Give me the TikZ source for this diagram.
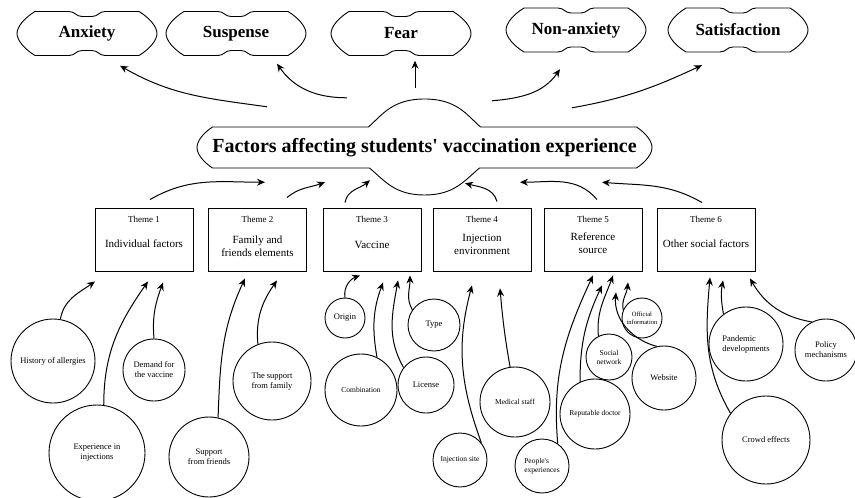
\documentclass[tikz,border=0pt]{standalone}
\usepackage{fontspec}
\setmainfont{Liberation Serif}
\usetikzlibrary{arrows.meta, positioning}

\tikzset{
  emoline/.style={line width=0.9pt},
  emo/.style={minimum width=140pt, minimum height=44pt, inner sep=0pt, font=\fontsize{17}{19}\selectfont\bfseries},
  factor/.style={minimum width=455pt, minimum height=41pt, inner sep=0pt, font=\fontsize{20}{22}\selectfont\bfseries},
  theme/.style={draw, line width=0.9pt, minimum width=98pt, minimum height=63pt, inner sep=0pt},
  themeno/.style={font=\fontsize{9}{10}\selectfont, inner sep=0pt},
  themetxt/.style={font=\fontsize{11}{13}\selectfont, align=center, inner sep=0pt},
  sub/.style={draw, circle, line width=0.9pt, inner sep=0pt, align=center, font=\fontsize{8.5}{10}\selectfont},
  subsm/.style={sub, font=\fontsize{7.5}{9}\selectfont},
  arr/.style={line width=1pt, -{Stealth[length=8pt,width=7pt]}},
}

% outline of an emotion node
\newcommand{\emoshape}[1]{%
  \draw[emoline, shift={(#1.center)}]
    (-52,22) -- (-18,22) .. controls (-12,22) and (-11,17) .. (-5,17) -- (5,17)
    .. controls (11,17) and (12,22) .. (18,22) -- (52,22)
    .. controls (62,16) and (70,7) .. (70,0) .. controls (70,-7) and (62,-16) .. (52,-22)
    -- (18,-22) .. controls (12,-22) and (11,-17) .. (5,-17) -- (-5,-17)
    .. controls (-11,-17) and (-12,-22) .. (-18,-22) -- (-52,-22)
    .. controls (-62,-16) and (-70,-7) .. (-70,0) .. controls (-70,7) and (-62,16) .. cycle;}

\begin{document}
\begin{tikzpicture}[x=1pt,y=1pt]
  \useasboundingbox (0,0) rectangle (855,-498);

  % emotions
  \node[emo] (a1) at (87,-33.5) {Anxiety};
  \node[emo] (a2) at (236,-33.5) {Suspense};
  \node[emo] (a3) at (401,-33.5) {Fear};
  \node[emo] (a4) at (576,-30) {Non-anxiety};
  \node[emo] (a5) at (738,-30) {Satisfaction};
  \emoshape{a1} \emoshape{a2} \emoshape{a3} \emoshape{a4} \emoshape{a5}

  % central node
  \node[factor] (m) at (424.5,-147.5) {Factors affecting students\textquotesingle\ vaccination experience};
  \draw[emoline, shift={(m.center)}]
    (-212,20.5) -- (-56,20.5) .. controls (-42,33) and (-32,48.5) .. (0,48.5)
    .. controls (32,48.5) and (42,33) .. (56,20.5) -- (212,20.5)
    .. controls (222,14) and (227.5,6) .. (227.5,0) .. controls (227.5,-6) and (222,-14) .. (212,-20.5)
    -- (55,-20.5) .. controls (40,-33) and (30,-47.5) .. (0,-47.5)
    .. controls (-30,-47.5) and (-40,-33) .. (-55,-20.5) -- (-212,-20.5)
    .. controls (-222,-14) and (-227.5,-6) .. (-227.5,0) .. controls (-227.5,6) and (-222,14) .. cycle;

  \draw[arr] ([xshift=-157.5pt,yshift=20pt]m.north) to[out=172,in=-30] ([xshift=33pt,yshift=-10pt]a1.south);
  \draw[arr] ([xshift=-77.5pt,yshift=29pt]m.north) to[out=180,in=-55] ([xshift=41pt,yshift=-8pt]a2.south);
  \draw[arr] ([xshift=-9.5pt,yshift=39pt]m.north) -- ([xshift=14pt,yshift=-5pt]a3.south);
  \draw[arr] ([xshift=67.5pt,yshift=26pt]m.north) to[out=5,in=-125] ([xshift=-16pt,yshift=-17pt]a4.south);
  \draw[arr] ([xshift=147.5pt,yshift=19pt]m.north) to[out=10,in=-155] ([xshift=-36pt,yshift=-13pt]a5.south);

  % themes
  \node[theme] (t1) at (144,-239.5) {};
  \node[theme] (t2) at (257.5,-239.5) {};
  \node[theme] (t3) at (372,-239.5) {};
  \node[theme] (t4) at (482,-239.5) {};
  \node[theme] (t5) at (593,-239.5) {};
  \node[theme] (t6) at (706,-239.5) {};
  \node[themeno] (t1n) at ([yshift=-12pt]t1.north) {Theme 1};
  \node[themeno] (t2n) at ([yshift=-12pt]t2.north) {Theme 2};
  \node[themeno] (t3n) at ([yshift=-12pt]t3.north) {Theme 3};
  \node[themeno] (t4n) at ([yshift=-12pt]t4.north) {Theme 4};
  \node[themeno] (t5n) at ([yshift=-12pt]t5.north) {Theme 5};
  \node[themeno] (t6n) at ([yshift=-12pt]t6.north) {Theme 6};
  \node[themetxt] (t1x) at ([yshift=-4pt]t1.center) {Individual factors};
  \node[themetxt] (t2x) at ([yshift=-7pt]t2.center) {Family and\\friends elements};
  \node[themetxt] (t3x) at ([yshift=-5pt]t3.center) {Vaccine};
  \node[themetxt] (t4x) at ([yshift=-5pt]t4.center) {Injection\\environment};
  \node[themetxt] (t5x) at ([yshift=-4pt]t5.center) {Reference\\source};
  \node[themetxt] (t6x) at ([yshift=-4pt]t6.center) {Other social factors};

  \draw[arr] ([xshift=6pt,yshift=8pt]t1.north) to[out=30,in=180] ([xshift=-159.5pt,yshift=-14pt]m.south);
  \draw[arr] ([xshift=29.5pt,yshift=10pt]t2.north) to[out=40,in=-160] ([xshift=-99.5pt,yshift=-14pt]m.south);
  \draw[arr] ([xshift=-27pt,yshift=5pt]t3.north) to[out=80,in=-140] ([xshift=-54.5pt,yshift=-12pt]m.south);
  \draw[arr] ([xshift=15pt,yshift=6pt]t4.north) to[out=105,in=-15] ([xshift=40.5pt,yshift=-15pt]m.south);
  \draw[arr] ([xshift=4pt,yshift=8pt]t5.north) to[out=130,in=0] ([xshift=95.5pt,yshift=-14pt]m.south);
  \draw[arr] ([xshift=-4pt,yshift=5pt]t6.north) to[out=150,in=-5] ([xshift=177.5pt,yshift=-14pt]m.south);

  % sub-themes
  \node[sub, minimum size=84pt] (h1) at (53,-361) {History of allergies};
  \node[sub, minimum size=96pt] (h2) at (97,-453) {Experience in\\injections};
  \node[sub, minimum size=62pt] (h3) at (154,-370) {Demand for\\the vaccine};
  \node[sub, minimum size=80pt] (f1) at (209,-457) {Support\\from friends};
  \node[sub, minimum size=78pt] (f2) at (272,-381) {The support\\from family};
  \node[sub, minimum size=40pt] (v1) at (345,-318) {Origin};
  \node[sub, minimum size=52pt] (v2) at (434,-325) {Type};
  \node[subsm, minimum size=72pt] (v3) at (361,-390) {Combination};
  \node[sub, minimum size=56pt] (v4) at (426,-385) {License};
  \node[subsm, minimum size=54pt] (e1) at (460,-460) {Injection site};
  \node[subsm, minimum size=70pt] (e2) at (515,-402) {Medical staff};
  \node[subsm, minimum size=54pt, align=left] (r1) at (542,-466) {People\textquotesingle s\\experiences};
  \node[subsm, minimum size=70pt] (r2) at (595,-414) {Reputable doctor};
  \node[subsm, minimum size=46pt] (r3) at (609,-357) {Social\\network};
  \node[sub, minimum size=64pt] (r4) at (664,-378) {Website};
  \node[subsm, minimum size=40pt, font=\fontsize{6.5}{8}\selectfont] (r5) at (642,-318) {Official\\information};
  \node[sub, minimum size=88pt] (o1) at (766,-440) {Crowd effects};
  \node[sub, minimum size=74pt, align=left] (o2) at (746,-344) {Pandemic\\developments};
  \node[sub, minimum size=62pt] (o3) at (826,-350) {Policy\\mechanisms};

  \draw[arr] (h1.80) to[out=80,in=-145] ([xshift=-49pt,yshift=-10pt]t1.south);
  \draw[arr] (h2.82) to[out=90,in=-125] ([xshift=4pt,yshift=-10pt]t1.south);
  \draw[arr] (h3.north) to[out=95,in=-110] ([xshift=19pt,yshift=-11pt]t1.south);
  \draw[arr] (f1.77) to[out=88,in=-115] ([xshift=-12.5pt,yshift=-7pt]t2.south);
  \draw[arr] (f2.111) to[out=95,in=-125] ([xshift=19.5pt,yshift=-9pt]t2.south);
  \draw[arr] (v1.north) to[out=100,in=-160] ([xshift=-12pt,yshift=-4pt]t3.south);
  \draw[arr] (v3.64) to[out=100,in=-110] ([xshift=11pt,yshift=-11pt]t3.south);
  \draw[arr] (v4.142) to[out=120,in=-100] ([xshift=26pt,yshift=-9pt]t3.south);
  \draw[arr] (v2.145) to[out=120,in=-90] ([xshift=38pt,yshift=-4pt]t3.south);
  \draw[arr] (e1.39) to[out=110,in=-105] ([xshift=-10pt,yshift=-14pt]t4.south);
  \draw[arr] (e2.98) to[out=100,in=-85] ([xshift=18pt,yshift=-17pt]t4.south);
  \draw[arr] (r1.55) to[out=95,in=-115] ([xshift=0pt,yshift=-4pt]t5.south);
  \draw[arr] (r2.115) to[out=90,in=-115] ([xshift=9pt,yshift=-14pt]t5.south);
  \draw[arr] (r3.117) to[out=95,in=-110] ([xshift=20pt,yshift=-4pt]t5.south);
  \draw[arr] (r4.103) to[out=165,in=-95] ([xshift=23pt,yshift=-21pt]t5.south);
  \draw[arr] (r5.157) to[out=100,in=-95] ([xshift=35pt,yshift=-11pt]t5.south);
  \draw[arr] (o1.143) to[out=120,in=-95] ([xshift=4pt,yshift=-6pt]t6.south);
  \draw[arr] (o2.127) to[out=100,in=-100] ([xshift=17pt,yshift=-9pt]t6.south);
  \draw[arr] (o3.117) to[out=170,in=-60] ([xshift=44pt,yshift=-7pt]t6.south);
\end{tikzpicture}
\end{document}
